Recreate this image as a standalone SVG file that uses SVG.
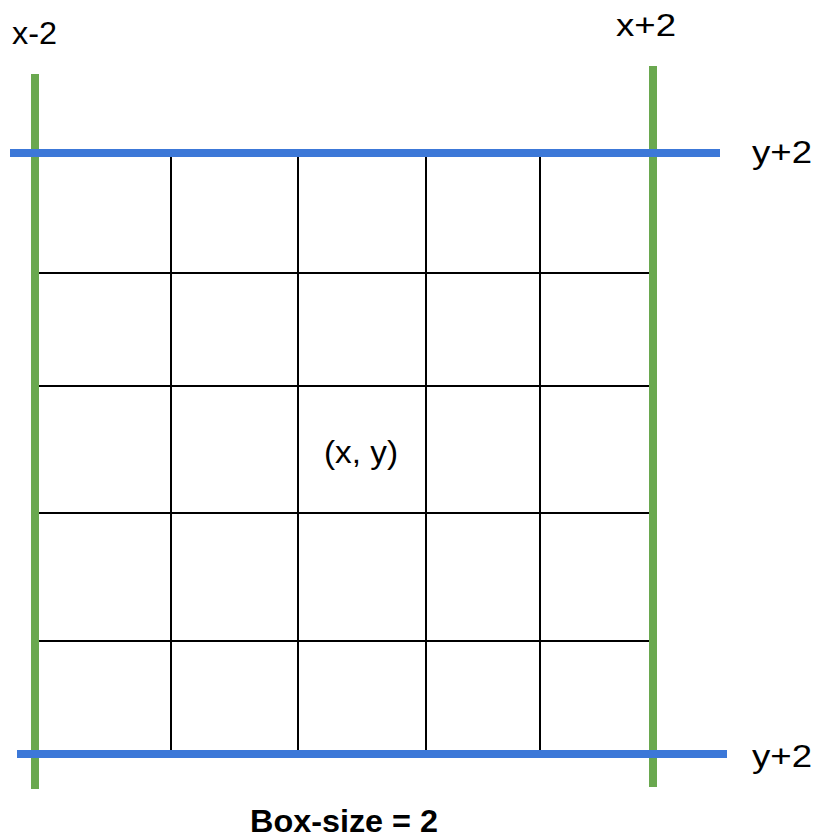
<svg xmlns="http://www.w3.org/2000/svg" width="817" height="836" viewBox="0 0 817 836">
<style>
.t{font-family:"Liberation Sans",Arial,sans-serif;font-size:32px;fill:#000}
.b{font-weight:bold}
.g{stroke:#000;stroke-width:2}
.gr{stroke:#6aa84f;stroke-width:8}
.bl{stroke:#3c78d8;stroke-width:8}
</style>
<rect width="817" height="836" fill="#fff"/>
<g id="grid">
<line class="g" x1="171" y1="153" x2="171" y2="754"/>
<line class="g" x1="298" y1="153" x2="298" y2="754"/>
<line class="g" x1="426" y1="153" x2="426" y2="754"/>
<line class="g" x1="540" y1="153" x2="540" y2="754"/>
<line class="g" x1="38" y1="273" x2="651" y2="273"/>
<line class="g" x1="38" y1="386" x2="651" y2="386"/>
<line class="g" x1="38" y1="513" x2="651" y2="513"/>
<line class="g" x1="38" y1="641" x2="651" y2="641"/>
</g>
<g id="bounds">
<line class="gr" x1="35" y1="74" x2="35" y2="789"/>
<line class="gr" x1="653" y1="66" x2="653" y2="787"/>
<line class="bl" x1="10" y1="153" x2="720" y2="153"/>
<line class="bl" x1="17" y1="754" x2="727" y2="754"/>
</g>
<g id="labels">
<text class="t" x="12" y="44" textLength="45" lengthAdjust="spacingAndGlyphs">x-2</text>
<text class="t" x="616" y="36" textLength="60" lengthAdjust="spacingAndGlyphs">x+2</text>
<text class="t" x="752" y="163" textLength="60" lengthAdjust="spacingAndGlyphs">y+2</text>
<text class="t" x="752" y="767" textLength="60" lengthAdjust="spacingAndGlyphs">y+2</text>
<text class="t" x="324" y="463" textLength="74" lengthAdjust="spacingAndGlyphs">(x, y)</text>
<text class="t b" x="250" y="832" textLength="188" lengthAdjust="spacingAndGlyphs">Box-size = 2</text>
</g>
</svg>
